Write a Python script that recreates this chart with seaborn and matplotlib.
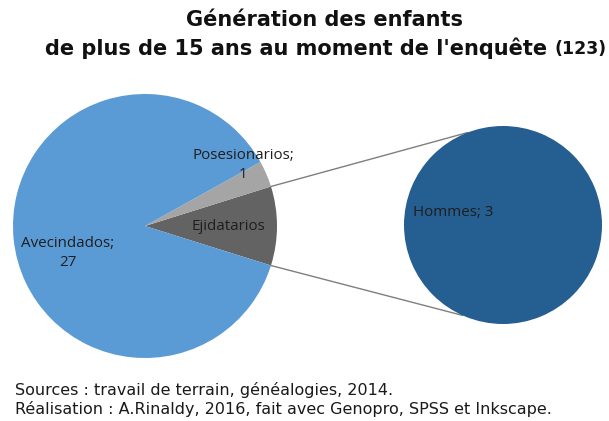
import numpy as np
import matplotlib
matplotlib.use("Agg")
import matplotlib.pyplot as plt
import seaborn as sns

# Main pie: children's generation by land status
categories = ["Ejidatarios", "Posesionarios", "Avecindados"]
counts = [3, 1, 27]
# Secondary pie: breakdown of the Ejidatarios slice
sub_categories = ["Hommes"]
sub_counts = [3]

title_line1 = "Génération des enfants"
title_line2 = "de plus de 15 ans au moment de l'enquête"
title_n = "(123)"
footer = ["Sources : travail de terrain, généalogies, 2014.",
          "Réalisation : A.Rinaldy, 2016, fait avec Genopro, SPSS et Inkscape."]

sns.set_theme(style="white")
plt.rcParams["font.family"] = ["DejaVu Sans"]

main_colors = ["#636363", "#a5a5a5", "#5b9bd5"]
sub_colors = ["#255e91"]

W, H = 609, 421
fig = plt.figure(figsize=(W / 100, H / 100), dpi=100)
ax = fig.add_axes([0, 0, 1, 1])

# main pie, with the exploded slice centred on the horizontal axis
c1 = (145, H - 226)
r1 = 132
start = -360 * counts[0] / sum(counts) / 2
wedges, _ = ax.pie(counts, colors=main_colors, startangle=start, counterclock=True,
                   center=c1, radius=r1, frame=True,
                   wedgeprops=dict(linewidth=0))

# secondary pie
c2 = (503, H - 225)
r2 = 99
ax.pie(sub_counts, colors=sub_colors, startangle=90, center=c2, radius=r2,
       frame=True, wedgeprops=dict(linewidth=0))
ax.set_xlim(0, W)
ax.set_ylim(0, H)
ax.set_aspect("equal")
ax.axis("off")

# connector lines from the Ejidatarios slice to the secondary pie
w = wedges[0]
for th_main, th_sub in [(w.theta2, 111), (w.theta1, -114)]:
    p1 = (c1[0] + r1 * np.cos(np.radians(th_main)), c1[1] + r1 * np.sin(np.radians(th_main)))
    p2 = (c2[0] + r2 * np.cos(np.radians(th_sub)), c2[1] + r2 * np.sin(np.radians(th_sub)))
    ax.plot([p1[0], p2[0]], [p1[1], p2[1]], color="#7f7f7f", lw=1.0, zorder=0.5)

lab_font = dict(family=["Open Sans", "DejaVu Sans"], fontsize=10.9, color="#1e1e1e")
ax.text(243, H - 165, f"{categories[1]};\n{counts[1]}", ha="center", va="center",
        linespacing=1.4, **lab_font)
ax.text(228, H - 226, categories[0], ha="center", va="center", **lab_font)
ax.text(68, H - 253, f"{categories[2]};\n{counts[2]}", ha="center", va="center",
        linespacing=1.35, **lab_font)
ax.text(413, H - 213, f"{sub_categories[0]}; {sub_counts[0]}", ha="left", va="center",
        **lab_font)

# title
ax.text(324.5, H - 20, title_line1, ha="center", va="center", fontsize=15,
        fontweight="bold", color="#111111")
ax.text(296.5, H - 48, title_line2, ha="center", va="center", fontsize=15,
        fontweight="bold", color="#111111")
ax.text(555, H - 49, title_n, ha="left", va="center", fontsize=12.5,
        fontweight="bold", color="#111111")

# sources
ax.text(15, H - 390, footer[0], ha="left", va="center", fontsize=11.5, color="#1a1a1a")
ax.text(15, H - 409, footer[1], ha="left", va="center", fontsize=11.5, color="#1a1a1a")

fig.savefig("out.png", dpi=100)
